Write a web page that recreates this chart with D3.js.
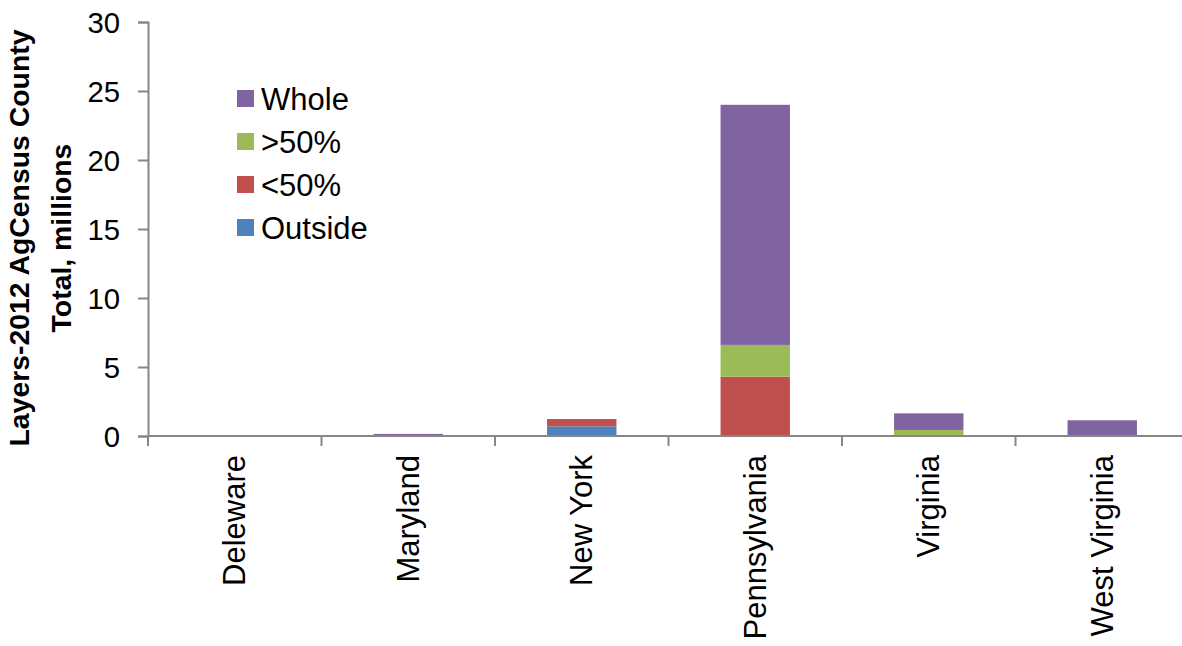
<!DOCTYPE html>
<html>
<head>
<meta charset="utf-8">
<script src="https://cdn.jsdelivr.net/npm/d3@7"></script>
<style>
  html, body { margin: 0; padding: 0; background: #fff; }
  svg { display: block; font-family: "Liberation Sans", Arial, sans-serif; }
</style>
</head>
<body>
<svg id="chart" width="1182" height="646"></svg>
<script>
// Layers counted in the 2012 Census of Agriculture, by state (millions)
const categories = ["Deleware", "Maryland", "New York", "Pennsylvania", "Virginia", "West Virginia"];
const outside = [0, 0, 0.70, 0, 0, 0];
const lt50    = [0, 0, 0.53, 4.3, 0, 0];
const gt50    = [0, 0, 0, 2.3, 0.43, 0];
const whole   = [0, 0.15, 0, 17.4, 1.21, 1.14];
const yTicks  = [0, 5, 10, 15, 20, 25, 30];

const seriesNames = ["Outside", "<50%", ">50%", "Whole"];
const seriesValues = [outside, lt50, gt50, whole];
const colors = { "Outside": "#4F81BD", "<50%": "#C0504D", ">50%": "#9BBB59", "Whole": "#8064A2" };

const rows = categories.map((c, i) => {
  const r = { state: c };
  seriesNames.forEach((s, j) => { r[s] = seriesValues[j][i]; });
  return r;
});

const svg = d3.select("#chart");
const axisColor = "#868686";
const tickFont = 29.3;
const categoryFont = 31;
const legendFont = 31;

const x = d3.scaleBand()
  .domain(categories)
  .range([148, 1189])
  .paddingInner(0.6)
  .paddingOuter(0.3);

const y = d3.scaleLinear().domain([0, 30]).range([436, 22]);

const stacked = d3.stack().keys(seriesNames)(rows);

// Bars
svg.append("g")
  .selectAll("g")
  .data(stacked)
  .join("g")
    .attr("fill", d => colors[d.key])
  .selectAll("rect")
  .data(d => d)
  .join("rect")
    .attr("x", d => x(d.data.state))
    .attr("width", x.bandwidth())
    .attr("y", d => y(d[1]))
    .attr("height", d => Math.max(0, y(d[0]) - y(d[1])));

// Y axis
const yAxis = svg.append("g")
  .attr("transform", "translate(148,0)")
  .call(d3.axisLeft(y).tickValues(yTicks).tickSize(10).tickPadding(18).tickFormat(d3.format("d")));
yAxis.select(".domain").attr("stroke", axisColor).attr("stroke-width", 2);
yAxis.selectAll(".tick line").attr("stroke", axisColor).attr("stroke-width", 2);
yAxis.selectAll(".tick text")
  .attr("fill", "#000")
  .style("font-size", tickFont + "px")
  .attr("dy", "0.36em");

// X axis baseline and category dividers
const xAxisG = svg.append("g");
xAxisG.append("line")
  .attr("x1", 148).attr("x2", 1182)
  .attr("y1", y(0)).attr("y2", y(0))
  .attr("stroke", axisColor).attr("stroke-width", 2);
const step = x.step();
const boundaries = d3.range(categories.length + 1).map(i => 148 + i * step);
xAxisG.selectAll("line.div")
  .data(boundaries)
  .join("line")
    .attr("class", "div")
    .attr("x1", d => d).attr("x2", d => d)
    .attr("y1", y(0)).attr("y2", y(0) + 10)
    .attr("stroke", axisColor).attr("stroke-width", 2);

// Category labels, rotated
xAxisG.selectAll("text")
  .data(categories)
  .join("text")
    .attr("transform", d => `translate(${x(d) + x.bandwidth() / 2 + 10.5},455) rotate(-90)`)
    .attr("text-anchor", "end")
    .style("font-size", categoryFont + "px")
    .attr("fill", "#000")
    .text(d => d);

// Y axis title
const title = svg.append("text")
  .attr("transform", "translate(0,238) rotate(-90)")
  .attr("text-anchor", "middle")
  .style("font-size", "28.4px")
  .style("font-weight", "bold")
  .attr("fill", "#000");
title.append("tspan").attr("x", 0).attr("y", 29).text("Layers-2012 AgCensus County");
title.append("tspan").attr("x", 0).attr("y", 71).text("Total, millions");

// Legend (top entry = top of stack)
const legendOrder = ["Whole", ">50%", "<50%", "Outside"];
const legend = svg.append("g").attr("transform", "translate(237,90)");
const item = legend.selectAll("g")
  .data(legendOrder)
  .join("g")
    .attr("transform", (d, i) => `translate(0,${i * 43})`);
item.append("rect")
  .attr("width", 17).attr("height", 17)
  .attr("fill", d => colors[d]);
item.append("text")
  .attr("x", 24).attr("y", 8.5)
  .attr("dy", "0.36em")
  .style("font-size", legendFont + "px")
  .attr("fill", "#000")
  .text(d => d);
</script>
</body>
</html>
